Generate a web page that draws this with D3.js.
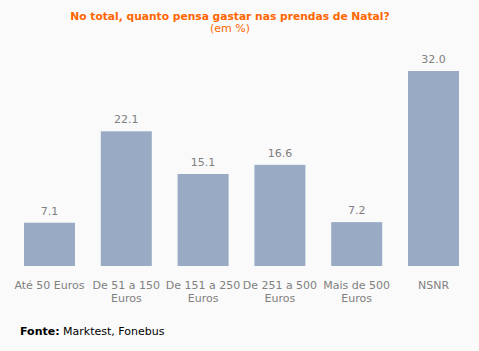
<!DOCTYPE html>
<html lang="pt">
<head>
<meta charset="utf-8">
<title>Prendas de Natal</title>
<script src="https://d3js.org/d3.v7.min.js"></script>
<style>
  body { margin: 0; background: #fafafa; }
  svg { display: block; font-family: "DejaVu Sans", Verdana, sans-serif; }
</style>
</head>
<body>
<script>
  var w = 479, h = 351;

  // data
  var categories = [["Até 50 Euros"], ["De 51 a 150", "Euros"], ["De 151 a 250", "Euros"],
                    ["De 251 a 500", "Euros"], ["Mais de 500", "Euros"], ["NSNR"]];
  var values = [7.1, 22.1, 15.1, 16.6, 7.2, 32.0];
  var title = "No total, quanto pensa gastar nas prendas de Natal?";
  var subtitle = "(em %)";

  var svg = d3.select("body").append("svg")
    .attr("width", w)
    .attr("height", h)
    .style("background-color", "#fafafa");

  var x = d3.scaleBand()
    .domain(d3.range(values.length))
    .range([24, 459])
    .paddingInner(0.336)
    .paddingOuter(0);

  var y = d3.scaleLinear()
    .domain([0, 32])
    .range([266, 71]);

  // title
  svg.append("text")
    .attr("x", 230).attr("y", 20)
    .attr("text-anchor", "middle")
    .attr("fill", "#ff6600")
    .style("font-size", "10.7px")
    .style("font-weight", "bold")
    .text(title);
  svg.append("text")
    .attr("x", 230).attr("y", 32)
    .attr("text-anchor", "middle")
    .attr("fill", "#ff6600")
    .style("font-size", "11px")
    .text(subtitle);

  // bars
  svg.selectAll("rect.bar")
    .data(values)
    .enter().append("rect")
    .attr("class", "bar")
    .attr("x", function(d, i) { return x(i); })
    .attr("y", function(d) { return y(d); })
    .attr("width", x.bandwidth())
    .attr("height", function(d) { return y(0) - y(d); })
    .attr("fill", "#99aac4");

  // value labels
  svg.selectAll("text.val")
    .data(values)
    .enter().append("text")
    .attr("class", "val")
    .attr("x", function(d, i) { return x(i) + x.bandwidth() / 2; })
    .attr("y", function(d) { return y(d) - 8; })
    .attr("text-anchor", "middle")
    .attr("fill", "#808080")
    .style("font-size", "11px")
    .text(function(d) { return d.toFixed(1); });

  // category labels
  var cat = svg.selectAll("text.cat")
    .data(categories)
    .enter().append("text")
    .attr("class", "cat")
    .attr("x", function(d, i) { return x(i) + x.bandwidth() / 2; })
    .attr("y", 289)
    .attr("text-anchor", "middle")
    .attr("fill", "#808080")
    .style("font-size", "11px");
  cat.selectAll("tspan")
    .data(function(d) { return d; })
    .enter().append("tspan")
    .attr("x", function() { return d3.select(this.parentNode).attr("x"); })
    .attr("dy", function(d, i) { return i ? 13 : 0; })
    .text(function(d) { return d; });

  // source
  var src = svg.append("text")
    .attr("x", 20).attr("y", 335)
    .attr("fill", "#000")
    .style("font-size", "11px");
  src.append("tspan").style("font-weight", "bold").text("Fonte:");
  src.append("tspan").text(" Marktest, Fonebus");
</script>
</body>
</html>
